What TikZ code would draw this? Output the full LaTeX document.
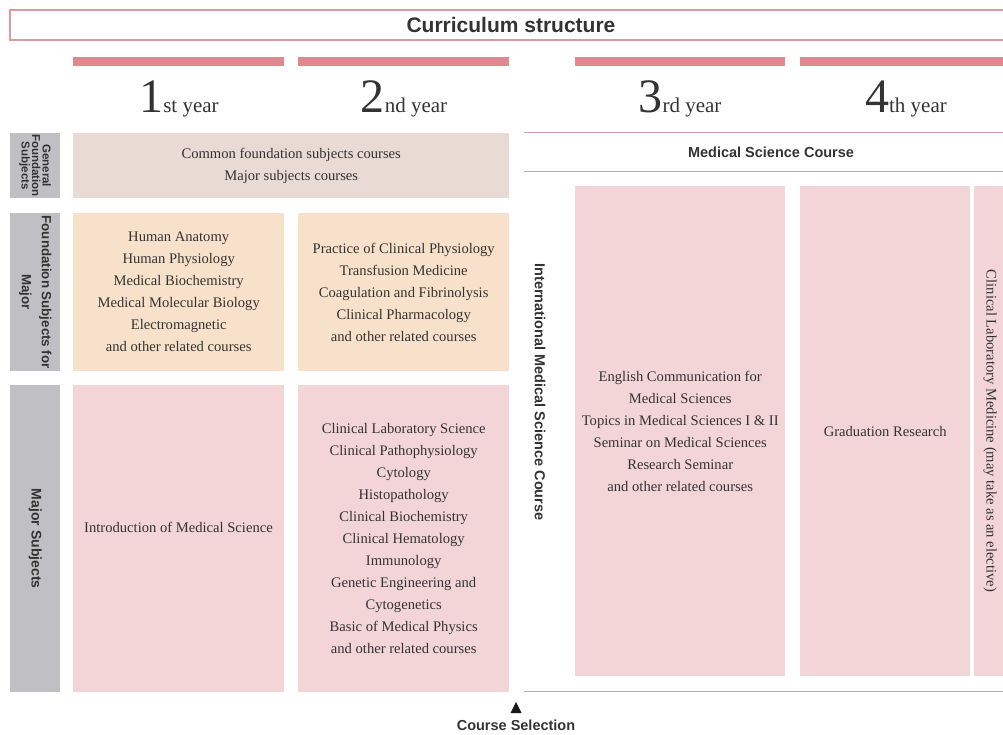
\documentclass[tikz,border=0pt]{standalone}
\usepackage{fontspec}
\setmainfont{Liberation Serif}
\setsansfont{Liberation Sans}
\usetikzlibrary{positioning}

\definecolor{barpink}{HTML}{DF8890}
\definecolor{rulepink}{HTML}{DA9AA0}
\definecolor{sidegray}{HTML}{C0C0C4}
\definecolor{commonbeige}{HTML}{E9DAD3}
\definecolor{foundpeach}{HTML}{F8E1CA}
\definecolor{majorpink}{HTML}{F3D5D7}
\definecolor{inktext}{HTML}{333333}

\tikzset{
  yearbar/.style={fill=barpink},
  sidebox/.style={fill=sidegray, anchor=north west, inner sep=0pt,
    minimum width=50pt, text=inktext},
  sidetext/.style={rotate=-90, align=center, text=inktext,
    font=\sffamily\bfseries\fontsize{14}{14}\selectfont},
  cell/.style={anchor=north west, inner sep=0pt, align=center, text=inktext,
    font=\fontsize{14.6}{22}\selectfont},
  celltext/.style={align=center, text=inktext, font=\fontsize{14.6}{22}\selectfont},
  yearlabel/.style={anchor=base, text=inktext, inner sep=0pt},
  headtext/.style={text=inktext, font=\sffamily\bfseries\fontsize{14.5}{15}\selectfont},
  courserule/.style={draw=rulepink, line width=1pt}
}
\newcommand{\yearname}[2]{{\fontsize{48}{48}\selectfont #1}{\fontsize{21}{21}\selectfont #2}}

\begin{document}
\begin{tikzpicture}[x=1pt,y=-1pt]
  \useasboundingbox (0,0) rectangle (1003,735);

  % title
  \draw[rulepink, line width=2pt] (10,10) rectangle (1012,40);
  \node[text=inktext, font=\sffamily\bfseries\fontsize{21}{22}\selectfont] (title) at (511,25) {Curriculum structure};

  % year bars and labels
  \fill[yearbar] (73,57) rectangle (284,66);
  \fill[yearbar] (298,57) rectangle (509,66);
  \fill[yearbar] (575,57) rectangle (785,66);
  \fill[yearbar] (800,57) rectangle (1003,66);
  \node[yearlabel] (yone) at (179,113) {\yearname{1}{st year}};
  \node[yearlabel] (ytwo) at (404,113) {\yearname{2}{nd year}};
  \node[yearlabel] (ythree) at (680,113) {\yearname{3}{rd year}};
  \node[yearlabel] (yfour) at (906,113) {\yearname{4}{th year}};

  % side labels
  \node[sidebox, minimum height=65pt] (sgen) at (10,133) {};
  \node[sidetext, font=\sffamily\bfseries\fontsize{11.5}{10.5}\selectfont] at (sgen.center) {General\\Foundation\\Subjects};
  \node[sidebox, minimum height=158pt] (sfound) at (10,213) {};
  \node[sidetext, font=\sffamily\bfseries\fontsize{13.3}{20}\selectfont] at (sfound.center) {Foundation Subjects for\\Major};
  \node[sidebox, minimum height=307pt] (smajor) at (10,385) {};
  \node[sidetext] at (smajor.center) {Major Subjects};

  % 1st and 2nd year
  \node[cell, fill=commonbeige, minimum width=436pt, minimum height=65pt] (common) at (73,133)
    {Common foundation subjects courses\\Major subjects courses};
  \node[cell, fill=foundpeach, minimum width=211pt, minimum height=158pt] (foundone) at (73,213)
    {Human Anatomy\\Human Physiology\\Medical Biochemistry\\Medical Molecular Biology\\Electromagnetic\\and other related courses};
  \node[cell, fill=foundpeach, minimum width=211pt, minimum height=158pt] (foundtwo) at (298,213)
    {Practice of Clinical Physiology\\Transfusion Medicine\\Coagulation and Fibrinolysis\\Clinical Pharmacology\\and other related courses};
  \node[cell, fill=majorpink, minimum width=211pt, minimum height=307pt] (majorone) at (73,385) {};
  \node[celltext] at (178.5,527) {Introduction of Medical Science};
  \node[cell, fill=majorpink, minimum width=211pt, minimum height=307pt] (majortwo) at (298,385)
    {Clinical Laboratory Science\\Clinical Pathophysiology\\Cytology\\Histopathology\\Clinical Biochemistry\\Clinical Hematology\\Immunology\\Genetic Engineering and\\Cytogenetics\\Basic of Medical Physics\\and other related courses};

  % 3rd and 4th year
  \draw[courserule] (524,133) -- (1003,133);
  \draw[courserule] (524,172) -- (1003,172);
  \node[headtext] (medcourse) at (771,152) {Medical Science Course};
  \node[cell, fill=majorpink, minimum width=210pt, minimum height=490pt] (threebox) at (575,186)
    {English Communication for\\Medical Sciences\\Topics in Medical Sciences I \& II\\Seminar on Medical Sciences\\Research Seminar\\and other related courses};
  \node[cell, fill=majorpink, minimum width=170pt, minimum height=490pt] (fourbox) at (800,186)
    {Graduation Research};
  \node[cell, fill=majorpink, minimum width=30pt, minimum height=490pt] (clinbox) at (974,186) {};
  \node[celltext, rotate=-90] at (990,431) {Clinical Laboratory Medicine (may take as an elective)};
  \draw[courserule] (524,691) -- (1003,691);
  \node[headtext, rotate=-90] (intlcourse) at (540,392) {International Medical Science Course};

  % course selection
  \fill[inktext!50!black] (516,702) -- (510.5,713) -- (521.5,713) -- cycle;
  \node[headtext] (selection) at (516,725) {Course Selection};
\end{tikzpicture}
\end{document}
